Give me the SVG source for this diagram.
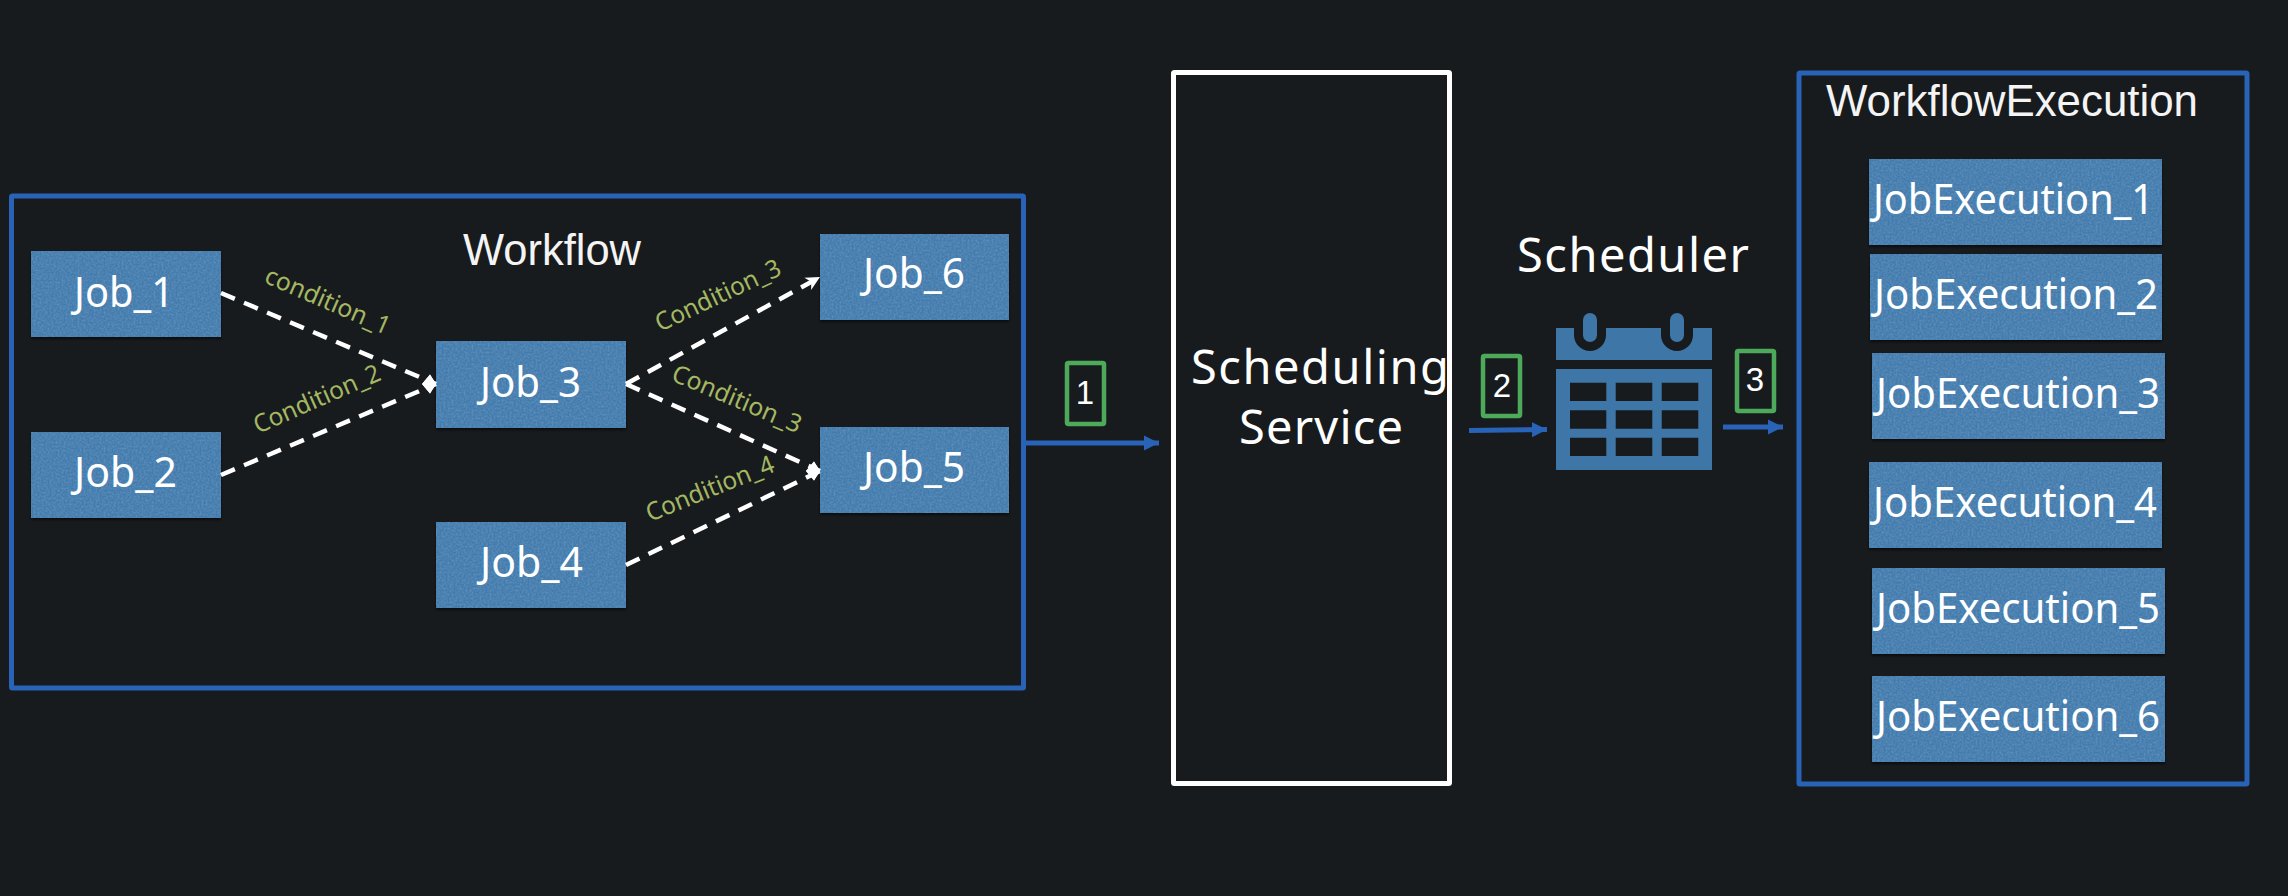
<svg xmlns="http://www.w3.org/2000/svg" width="2288" height="896" viewBox="0 0 2288 896">
<style>
.bg{fill:#181b1e}
.frame{fill:none;stroke:#2863b8;stroke-width:5}
.white{fill:none;stroke:#fff;stroke-width:5}
.job{fill:#3f7bae;filter:url(#paper)}
.t{font-family:"Noto Sans","DejaVu Sans",sans-serif;fill:#fff;font-size:41px}
.h{font-family:"Liberation Sans",Arial,sans-serif;fill:#f4f4f4;font-size:45px}
.big{font-family:"Noto Sans","DejaVu Sans",sans-serif;fill:#fff;font-size:47px}
.c{font-family:"Noto Sans","DejaVu Sans",sans-serif;fill:#a4b862;font-size:25px}
.n{font-family:"Liberation Sans",Arial,sans-serif;fill:#fff;font-size:33px;text-anchor:middle}
.tag{fill:none;stroke:#4caa5a;stroke-width:4.500}
.dash{fill:none;stroke:#fff;stroke-width:4.500;stroke-dasharray:15 10}
.flow{fill:none;stroke:#2863b8;stroke-width:5}
.cal{fill:#3f76a8}
</style>
<defs>
<filter id="paper" x="-5%" y="-5%" width="110%" height="115%">
<feTurbulence type="fractalNoise" baseFrequency="0.5" numOctaves="3" seed="4" result="noise"/>
<feColorMatrix in="noise" type="matrix" values="0 0 0 0 0.45  0 0 0 0 0.6  0 0 0 0 0.75  0 0 0 0.35 -0.12" result="grain"/>
<feComposite in="grain" in2="SourceGraphic" operator="in" result="g2"/>
<feDropShadow in="SourceGraphic" dx="0" dy="2" stdDeviation="1.500" flood-color="#000" flood-opacity="0.6" result="sh"/>
<feMerge><feMergeNode in="sh"/><feMergeNode in="g2"/></feMerge>
</filter>
<marker id="dia" markerUnits="userSpaceOnUse" markerWidth="16" markerHeight="22" refX="15" refY="11" orient="0"><path d="M1 11L9 1.500L15 11L9 20.500Z" fill="#fff"/></marker>
<marker id="tri" markerUnits="userSpaceOnUse" markerWidth="16" markerHeight="18" refX="15" refY="9" orient="auto"><path d="M1 2L15 9L1 16L5 9Z" fill="#fff"/></marker>
<marker id="blue" markerUnits="userSpaceOnUse" markerWidth="16" markerHeight="18" refX="15" refY="9" orient="auto"><path d="M0 1.500L15 9L0 16.500Z" fill="#2863b8"/></marker>
</defs>
<rect class="bg" width="2288" height="896"/>

<g id="workflow"><rect class="frame" x="11.500" y="196" width="1012" height="492" rx="1"/><text class="h" x="463" y="265" textLength="178" lengthAdjust="spacingAndGlyphs">Workflow</text></g>
<g id="job1"><rect class="job" x="31" y="251" width="190" height="86"/><text class="t" x="74" y="307" textLength="100" lengthAdjust="spacingAndGlyphs">Job_1</text></g>
<g id="job2"><rect class="job" x="31" y="432" width="190" height="86"/><text class="t" x="74" y="487" textLength="103" lengthAdjust="spacingAndGlyphs">Job_2</text></g>
<g id="job3"><rect class="job" x="436" y="341" width="190" height="87"/><text class="t" x="480" y="397" textLength="101" lengthAdjust="spacingAndGlyphs">Job_3</text></g>
<g id="job4"><rect class="job" x="436" y="522" width="190" height="86"/><text class="t" x="480" y="577" textLength="103" lengthAdjust="spacingAndGlyphs">Job_4</text></g>
<g id="job5"><rect class="job" x="820" y="427" width="189" height="86"/><text class="t" x="863" y="482" textLength="102" lengthAdjust="spacingAndGlyphs">Job_5</text></g>
<g id="job6"><rect class="job" x="820" y="234" width="189" height="86"/><text class="t" x="863" y="288" textLength="102" lengthAdjust="spacingAndGlyphs">Job_6</text></g>

<g id="connectors">
<path class="dash" d="M221 293L436 384" marker-end="url(#dia)"/>
<path class="dash" d="M221 475L436 384" marker-end="url(#dia)"/>
<path class="dash" d="M626 384L820 277" marker-end="url(#tri)"/>
<path class="dash" d="M626 384L820 471" marker-end="url(#dia)"/>
<path class="dash" d="M626 565L820 471" marker-end="url(#dia)"/>
<path class="flow" d="M1023 443H1159" marker-end="url(#blue)"/>
<path class="flow" d="M1469 430.500L1547 429.500" marker-end="url(#blue)"/>
<path class="flow" d="M1723 427H1783" marker-end="url(#blue)"/>
</g>

<g id="labels">
<text class="c" transform="translate(263 282) rotate(23.400)" textLength="134" lengthAdjust="spacingAndGlyphs">condition_1</text>
<text class="c" transform="translate(258 434) rotate(-23.700)" textLength="136" lengthAdjust="spacingAndGlyphs">Condition_2</text>
<text class="c" transform="translate(660 332) rotate(-25.200)" textLength="136" lengthAdjust="spacingAndGlyphs">Condition_3</text>
<text class="c" transform="translate(670 380) rotate(22.800)" textLength="138" lengthAdjust="spacingAndGlyphs">Condition_3</text>
<text class="c" transform="translate(650 522) rotate(-22)" textLength="136" lengthAdjust="spacingAndGlyphs">Condition_4</text>
</g>

<g id="step1"><rect class="tag" x="1067" y="363" width="37" height="61" rx="1.500"/><text class="n" x="1085" y="404">1</text></g>
<g id="step2"><rect class="tag" x="1483" y="356" width="37" height="60" rx="1.500"/><text class="n" x="1502" y="397">2</text></g>
<g id="step3"><rect class="tag" x="1737" y="351" width="37" height="60" rx="1.500"/><text class="n" x="1755" y="391">3</text></g>

<g id="scheduling-service"><rect class="white" x="1173.500" y="72.500" width="276" height="711" rx="1"/>
<text class="big" x="1191" y="384" textLength="258" lengthAdjust="spacing">Scheduling</text>
<text class="big" x="1239" y="444" textLength="164" lengthAdjust="spacing">Service</text></g>

<g id="scheduler">
<text class="big" x="1517" y="272" textLength="232" lengthAdjust="spacing">Scheduler</text>
<rect class="cal" x="1556" y="328" width="156" height="32"/>
<path class="bg" d="M1574 328V335a16 16 0 0 0 32 0V328ZM1661 328V335a16 16 0 0 0 32 0V328Z"/>
<rect class="cal" x="1583" y="313" width="14" height="29" rx="7"/>
<rect class="cal" x="1670" y="313" width="14" height="29" rx="7"/>
<path class="cal" fill-rule="evenodd" d="M1556 369H1712V470H1556ZM1570 382.700V401H1606.300V382.700ZM1615.700 382.700V401H1652.300V382.700ZM1661.700 382.700V401H1698.300V382.700ZM1570 410.300V428.700H1606.300V410.300ZM1615.700 410.300V428.700H1652.300V410.300ZM1661.700 410.300V428.700H1698.300V410.300ZM1570 437.700V456H1606.300V437.700ZM1615.700 437.700V456H1652.300V437.700ZM1661.700 437.700V456H1698.300V437.700Z"/>
</g>

<g id="workflow-execution"><rect class="frame" x="1799" y="73" width="448" height="711" rx="1"/><text class="h" x="1826" y="116" textLength="372" lengthAdjust="spacingAndGlyphs">WorkflowExecution</text></g>
<g id="je1"><rect class="job" x="1869" y="159" width="293" height="86"/><text class="t" x="1873" y="214" textLength="281" lengthAdjust="spacingAndGlyphs">JobExecution_1</text></g>
<g id="je2"><rect class="job" x="1870" y="254" width="292" height="86"/><text class="t" x="1874" y="309" textLength="284" lengthAdjust="spacingAndGlyphs">JobExecution_2</text></g>
<g id="je3"><rect class="job" x="1872" y="353" width="293" height="86"/><text class="t" x="1876" y="408" textLength="284" lengthAdjust="spacingAndGlyphs">JobExecution_3</text></g>
<g id="je4"><rect class="job" x="1869" y="462" width="293" height="86"/><text class="t" x="1873" y="517" textLength="284" lengthAdjust="spacingAndGlyphs">JobExecution_4</text></g>
<g id="je5"><rect class="job" x="1872" y="568" width="293" height="86"/><text class="t" x="1876" y="623" textLength="284" lengthAdjust="spacingAndGlyphs">JobExecution_5</text></g>
<g id="je6"><rect class="job" x="1872" y="676" width="293" height="86"/><text class="t" x="1876" y="731" textLength="284" lengthAdjust="spacingAndGlyphs">JobExecution_6</text></g>
</svg>
